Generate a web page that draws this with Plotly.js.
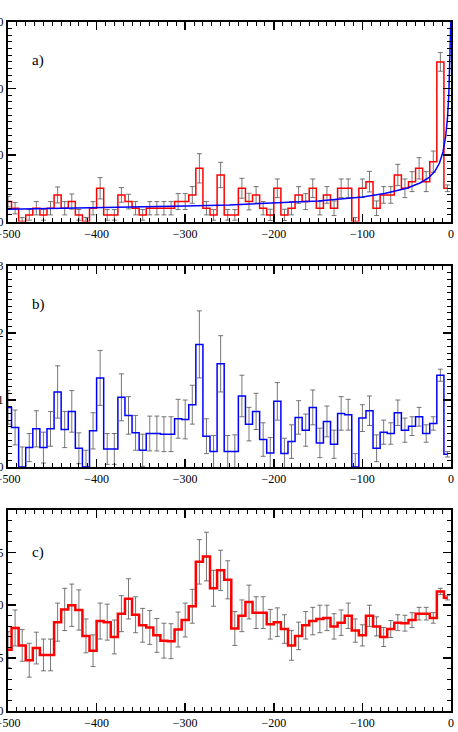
<!DOCTYPE html>
<html>
<head>
<meta charset="utf-8">
<script src="https://cdn.plot.ly/plotly-3.0.1.min.js"></script>
<style>
  html, body { margin: 0; padding: 0; overflow: hidden; background: #fff; }
  #chart { position: absolute; left: -40px; top: 0; width: 498px; height: 732px; }
</style>
</head>
<body>
<div id="chart"></div>
<script>
// Bin centres (days), 8-day bins; drawn IDL psym=10 style
const binCenters = [
    -500, -492, -484, -476, -468, -460, -452, -444, -436, -428,
    -420, -412, -404, -396, -388, -380, -372, -364, -356, -348,
    -340, -332, -324, -316, -308, -300, -292, -284, -276, -268,
    -260, -252, -244, -236, -228, -220, -212, -204, -196, -188,
    -180, -172, -164, -156, -148, -140, -132, -124, -116, -108,
    -100, -92, -84, -76, -68, -60, -52, -44, -36, -28,
    -20, -12, -4
];

// a) counts per bin
const countsA = [
    3, 2, 0, 1, 2, 1, 2, 4, 2, 3,
    1, 0, 2, 5, 1, 1, 4, 3, 2, 1,
    2, 2, 2, 2, 3, 3, 4, 8, 2, 1,
    7, 1, 1, 5, 3, 4, 2, 1, 5, 1,
    2, 4, 3, 5, 2, 4, 2, 5, 5, 0,
    5, 6, 2, 4, 4, 7, 5, 6, 8, 6,
    9, 24, 5
];
const errA = [
    0.8, 0.85, 0.6, 0.8, 1.0, 0.8, 1.0, 1.2, 1.0, 1.15,
    0.8, 0.6, 1.0, 1.6, 0.8, 0.8, 1.1, 1.1, 1.0, 0.8,
    1.0, 1.0, 1.0, 1.0, 1.2, 1.2, 1.25, 2.2, 1.0, 0.8,
    1.9, 0.8, 0.8, 1.5, 1.25, 1.25, 1.0, 0.85, 1.4, 0.85,
    1.0, 1.25, 1.2, 1.4, 1.0, 1.25, 1.1, 1.4, 1.4, 0.6,
    1.4, 1.55, 1.1, 1.25, 1.25, 1.6, 1.4, 1.5, 1.6, 1.5,
    1.6, 1.4, 0.5
];

// a) fitted curve
const fitX = [-500, -400, -300, -250, -200, -150, -100, -75, -50, -35,
    -25, -18, -13, -9, -6, -4, -2.5, -1.5, -0.7, -0.2];
const fitY = [1.85, 2.05, 2.35, 2.5, 2.75, 3.1, 3.7, 4.2, 5.0, 5.8,
    6.6, 7.6, 8.8, 10.5, 12.8, 15.5, 19, 22.5, 26, 30];

// b) ratio per bin
const ratioB = [
    0.89, 0.59, 0, 0.29, 0.57, 0.29, 0.57, 1.12, 0.56, 0.83,
    0.28, 0, 0.54, 1.33, 0.27, 0.27, 1.04, 0.77, 0.51, 0.25,
    0.50, 0.50, 0.49, 0.49, 0.72, 0.71, 0.93, 1.83, 0.46, 0.23,
    1.54, 0.23, 0.23, 1.06, 0.64, 0.83, 0.41, 0.21, 0.98, 0.20,
    0.38, 0.74, 0.55, 0.89, 0.36, 0.68, 0.34, 0.80, 0.78, 0,
    0.73, 0.84, 0.28, 0.52, 0.50, 0.81, 0.55, 0.61, 0.75, 0.50,
    0.65, 1.37, 0.19
];
const errB = [
    0.25, 0.26, 0.3, 0.21, 0.27, 0.23, 0.26, 0.39, 0.27, 0.31,
    0.23, 0.25, 0.27, 0.41, 0.23, 0.23, 0.35, 0.28, 0.26, 0.24,
    0.26, 0.26, 0.26, 0.26, 0.29, 0.29, 0.29, 0.5, 0.26, 0.24,
    0.42, 0.24, 0.25, 0.31, 0.25, 0.27, 0.25, 0.23, 0.28, 0.23,
    0.25, 0.25, 0.24, 0.26, 0.22, 0.23, 0.21, 0.25, 0.23, 0.2,
    0.2, 0.22, 0.2, 0.18, 0.16, 0.19, 0.18, 0.14, 0.14, 0.13,
    0.1, 0.09, 0.04
];

// c) smoothed ratio per bin
const ratioC = [
    0.58, 0.785, 0.62, 0.48, 0.595, 0.53, 0.53, 0.84, 0.96, 1.0,
    0.955, 0.71, 0.57, 0.85, 0.84, 0.70, 0.92, 1.06, 0.91, 0.81,
    0.79, 0.715, 0.665, 0.66, 0.77, 0.86, 0.99, 1.41, 1.46, 1.16,
    1.33, 1.24, 0.78, 0.90, 1.03, 0.93, 0.93, 0.82, 0.84, 0.775,
    0.62, 0.71, 0.81, 0.85, 0.87, 0.88, 0.80, 0.835, 0.90, 0.76,
    0.715, 0.90, 0.80, 0.70, 0.775, 0.835, 0.83, 0.86, 0.92, 0.92,
    0.88, 1.13, 1.07
];
const errC = [
    0.17, 0.17, 0.15, 0.16, 0.15, 0.15, 0.15, 0.18, 0.2, 0.2,
    0.19, 0.16, 0.15, 0.17, 0.17, 0.16, 0.17, 0.19, 0.17, 0.16,
    0.16, 0.16, 0.165, 0.165, 0.165, 0.16, 0.16, 0.21, 0.23, 0.17,
    0.19, 0.18, 0.16, 0.15, 0.16, 0.15, 0.15, 0.14, 0.135, 0.135,
    0.14, 0.13, 0.13, 0.13, 0.13, 0.12, 0.12, 0.12, 0.12, 0.11,
    0.1, 0.1, 0.09, 0.09, 0.08, 0.075, 0.075, 0.07, 0.06, 0.06,
    0.05, 0.03, 0.02
];

const errStyle = arr => ({
    type: 'data', array: arr, visible: true,
    color: 'rgba(85,85,85,0.8)', thickness: 1, width: 2.5
});

function stepTrace(y, err, color, width, xa, ya) {
    return {
        x: binCenters, y: y, xaxis: xa, yaxis: ya,
        type: 'scatter', mode: 'lines',
        line: { color: color, width: width, shape: 'hvh' },
        error_y: errStyle(err),
        hoverinfo: 'skip'
    };
}

const traces = [
    stepTrace(countsA, errA, '#ff0000', 1.5, 'x', 'y'),
    {
        x: fitX, y: fitY, xaxis: 'x', yaxis: 'y',
        type: 'scatter', mode: 'lines',
        line: { color: '#0000ff', width: 1.5 },
        hoverinfo: 'skip'
    },
    stepTrace(ratioB, errB, '#0000ff', 1.5, 'x2', 'y2'),
    stepTrace(ratioC, errC, '#ff0000', 2.5, 'x3', 'y3')
];

const tickFont = { family: 'Liberation Serif, Times New Roman, serif', size: 12, color: '#000' };

function xAxis(anchor) {
    return {
        anchor: anchor, range: [-500, 0], dtick: 100, tick0: 0,
        ticks: 'inside', ticklen: 8, tickwidth: 1.5, tickcolor: '#000',
        minor: { ticks: 'inside', dtick: 10, ticklen: 4, tickwidth: 1, tickcolor: '#000' },
        showline: true, linewidth: 2, linecolor: '#000', mirror: 'allticks',
        showgrid: false, zeroline: false, tickfont: tickFont
    };
}

function yAxis(anchor, range, dtick, minorDtick, domain, fmt) {
    return {
        anchor: anchor, domain: domain, range: range, dtick: dtick, tick0: 0,
        tickformat: fmt,
        ticks: 'inside', ticklen: 8, tickwidth: 1.5, tickcolor: '#000',
        minor: { ticks: 'inside', dtick: minorDtick, ticklen: 4, tickwidth: 1, tickcolor: '#000' },
        showline: true, linewidth: 2, linecolor: '#000', mirror: 'allticks',
        showgrid: false, zeroline: false, tickfont: tickFont
    };
}

const labelFont = { family: 'Liberation Serif, Times New Roman, serif', size: 15, color: '#000' };

const layout = {
    width: 498, height: 732,
    margin: { l: 48, r: 7, t: 22, b: 21 },
    paper_bgcolor: '#fff', plot_bgcolor: '#fff',
    showlegend: false,
    xaxis: xAxis('y'),
    xaxis2: xAxis('y2'),
    xaxis3: xAxis('y3'),
    yaxis: yAxis('x', [0, 30], 10, 1, [0.7104, 1], ''),
    yaxis2: yAxis('x2', [0, 3], 1, 0.1, [0.3541, 0.6459], ''),
    yaxis3: yAxis('x3', [0, 1.9], 0.5, 0.1, [0, 0.2917], '.1f'),
    annotations: [
        { text: 'a)', x: -466, y: 0.86, xref: 'x', yref: 'y domain', showarrow: false, font: labelFont },
        { text: 'b)', x: -466, y: 0.86, xref: 'x2', yref: 'y2 domain', showarrow: false, font: labelFont },
        { text: 'c)', x: -466, y: 0.84, xref: 'x3', yref: 'y3 domain', showarrow: false, font: labelFont }
    ]
};

Plotly.newPlot('chart', traces, layout, { staticPlot: true, displayModeBar: false });
</script>
</body>
</html>
